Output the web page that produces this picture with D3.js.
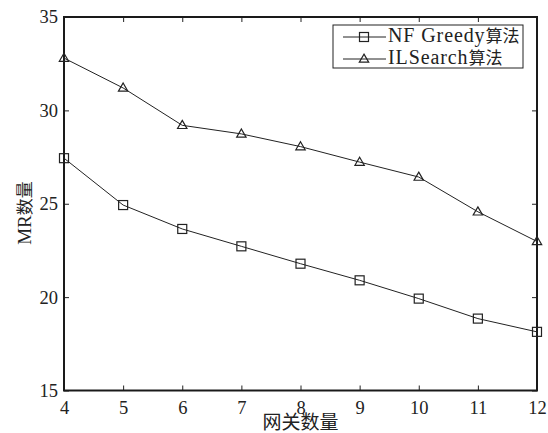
<!DOCTYPE html>
<html>
<head>
<meta charset="utf-8">
<script src="https://cdn.jsdelivr.net/npm/d3@7"></script>
<style>
  body { margin: 0; background: #fff; }
</style>
</head>
<body>
<svg id="chart" width="548" height="433"></svg>
<script>
const gateways = [4, 5, 6, 7, 8, 9, 10, 11, 12];
const nfGreedy = [27.44, 24.93, 23.65, 22.72, 21.79, 20.9, 19.92, 18.85, 18.14];
const ilSearch = [32.8, 31.2, 29.2, 28.74, 28.06, 27.23, 26.43, 24.57, 22.98];
const xTicks = [4, 5, 6, 7, 8, 9, 10, 11, 12];
const yTicks = [15, 20, 25, 30, 35];
const seriesLatin = ["NF Greedy", "ILSearch"];
const seriesCjk = "算法";

const serif = "'Liberation Serif', 'Times New Roman', 'DejaVu Serif', serif";
const cjk = "'Noto Sans CJK SC', sans-serif";
const ink = "#222";

const width = 548, height = 433;
const margin = {top: 17, right: 11, bottom: 42.5, left: 64};
const innerWidth = width - margin.left - margin.right;
const innerHeight = height - margin.top - margin.bottom;

const svg = d3.select("#chart");
const g = svg.append("g")
  .attr("transform", `translate(${margin.left}, ${margin.top})`);

const xScale = d3.scaleLinear().domain([4, 12]).range([0, innerWidth]);
const yScale = d3.scaleLinear().domain([15, 35]).range([innerHeight, 0]);

// inward ticks on all four sides, labels only bottom and left
const tickLen = 5;
const styleLabels = a => {
  a.attr("font-family", null).attr("font-size", null);
  a.selectAll("text").attr("font-family", serif).attr("font-size", 18.5).attr("fill", ink);
};

g.append("g").call(d3.axisBottom(xScale).tickValues(xTicks).tickSize(-tickLen).tickPadding(10))
  .attr("transform", `translate(0, ${innerHeight})`)
  .call(a => a.select(".domain").remove())
  .call(styleLabels);
g.append("g").call(d3.axisTop(xScale).tickValues(xTicks).tickSize(-tickLen).tickFormat(""))
  .call(a => a.select(".domain").remove());
g.append("g").call(d3.axisLeft(yScale).tickValues(yTicks).tickSize(-tickLen).tickPadding(6))
  .call(a => a.select(".domain").remove())
  .call(styleLabels);
g.append("g").call(d3.axisRight(yScale).tickValues(yTicks).tickSize(-tickLen).tickFormat(""))
  .attr("transform", `translate(${innerWidth}, 0)`)
  .call(a => a.select(".domain").remove());
g.selectAll(".tick line").attr("stroke", ink).attr("stroke-width", 1);

g.append("rect")
  .attr("width", innerWidth).attr("height", innerHeight)
  .attr("fill", "none").attr("stroke", "#1a1a1a").attr("stroke-width", 2);

const line = d3.line().x(d => xScale(d[0])).y(d => yScale(d[1]));
const sqSize = 9;
const tri = d3.symbol().type(d3.symbolTriangle).size(38);

function drawSeries(values, marker) {
  const pts = gateways.map((x, i) => [x, values[i]]);
  g.append("path").datum(pts).attr("d", line)
    .attr("fill", "none").attr("stroke", ink).attr("stroke-width", 1);
  const m = g.append("g");
  pts.forEach(p => marker(m, xScale(p[0]), yScale(p[1])));
}
function square(sel, x, y) {
  sel.append("rect").attr("x", x - sqSize / 2).attr("y", y - sqSize / 2)
    .attr("width", sqSize).attr("height", sqSize)
    .attr("fill", "none").attr("stroke", ink).attr("stroke-width", 1.2);
}
function triangle(sel, x, y) {
  sel.append("path").attr("d", tri()).attr("transform", `translate(${x}, ${y + 0.5})`)
    .attr("fill", "none").attr("stroke", ink).attr("stroke-width", 1.2);
}
drawSeries(nfGreedy, square);
drawSeries(ilSearch, triangle);

// legend
const lg = svg.append("g").attr("transform", "translate(333, 25)");
lg.append("rect").attr("width", 190).attr("height", 43)
  .attr("fill", "#fff").attr("stroke", ink).attr("stroke-width", 1);
[square, triangle].forEach((mk, i) => {
  const y = 12 + i * 22;
  lg.append("line").attr("x1", 10).attr("x2", 53).attr("y1", y).attr("y2", y)
    .attr("stroke", ink).attr("stroke-width", 1);
  mk(lg, 31, y);
  const t = lg.append("text").attr("x", 55).attr("y", y).attr("dy", "0.34em").attr("fill", ink);
  t.append("tspan").attr("font-family", serif).attr("font-size", 20)
    .attr("letter-spacing", 0.9).text(seriesLatin[i]);
  t.append("tspan").attr("font-family", cjk).attr("font-size", 17).text(seriesCjk);
});

// axis titles
svg.append("text").attr("x", margin.left + innerWidth / 2).attr("y", 428.5)
  .attr("text-anchor", "middle").attr("fill", ink)
  .attr("font-family", cjk).attr("font-size", 19).text("网关数量");
const yt = svg.append("text").attr("transform", "translate(31, 213) rotate(-90)")
  .attr("text-anchor", "middle").attr("fill", ink);
yt.append("tspan").attr("font-family", serif).attr("font-size", 19).text("MR");
yt.append("tspan").attr("font-family", cjk).attr("font-size", 17).text("数量");
</script>
</body>
</html>
